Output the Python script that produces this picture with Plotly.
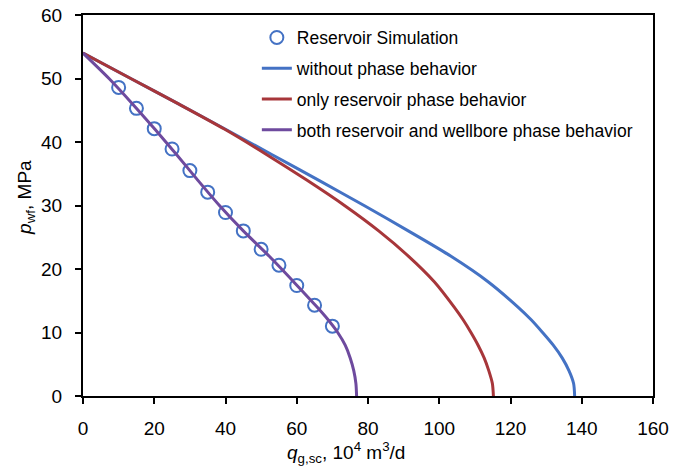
import plotly.graph_objects as go

# Reservoir simulation points
sim_q = [10, 15, 20, 25, 30, 35, 40, 45, 50, 55, 60, 65, 70]
sim_p = [48.6, 45.3, 42.1, 38.9, 35.5, 32.1, 28.9, 26.0, 23.1, 20.6, 17.4, 14.3, 11.0]

# Curves, read at shared pwf levels
p_levels = [54, 50, 46, 42, 38, 34, 30, 26, 22, 18, 14, 12, 10, 8, 6, 4, 2, 0]
q_without = [0, 13.4, 26.8, 40.0, 53.1, 66.1, 78.9, 91.3, 103.3, 113.7, 122.1, 125.8, 129.0, 132.0, 134.5, 136.4, 137.7, 138.0]
q_reservoir = [0, 13.4, 26.8, 39.8, 51.6, 62.8, 73.4, 83.0, 91.4, 98.6, 104.2, 106.7, 108.9, 110.9, 112.6, 113.9, 114.9, 115.2]
q_both = [0, 7.3, 13.9, 20.2, 26.3, 32.2, 38.3, 45.0, 52.3, 59.1, 65.7, 68.8, 71.5, 73.6, 75.0, 76.0, 76.6, 76.8]

x_ticks = [0, 20, 40, 60, 80, 100, 120, 140, 160]
y_ticks = [0, 10, 20, 30, 40, 50, 60]

BLUE = "#4472C4"
RED = "#A7363A"
PURPLE = "#6E4A9E"

fig = go.Figure()
fig.add_trace(go.Scatter(x=sim_q, y=sim_p, mode="markers", name="Reservoir Simulation",
                         legendgroup="a",
                         marker=dict(symbol="circle-open", size=13, color=BLUE, line=dict(width=2, color=BLUE))))
fig.add_trace(go.Scatter(x=q_without, y=p_levels, mode="lines", name="without phase behavior",
                         legendgroup="b", line=dict(color=BLUE, width=3, shape="spline", smoothing=0.8)))
fig.add_trace(go.Scatter(x=q_reservoir, y=p_levels, mode="lines", name="only reservoir phase behavior",
                         legendgroup="c", line=dict(color=RED, width=3, shape="spline", smoothing=0.8)))
fig.add_trace(go.Scatter(x=q_both, y=p_levels, mode="lines", name="both reservoir and wellbore phase behavior",
                         legendgroup="d", line=dict(color=PURPLE, width=3, shape="spline", smoothing=0.8)))

font_fam = "Liberation Sans, Arial, sans-serif"
axis_common = dict(showgrid=False, zeroline=False, showline=True, linecolor="black", linewidth=2,
                   mirror=True, ticks="outside", ticklen=6, tickwidth=2, tickcolor="black",
                   automargin=False, ticklabeloverflow="allow",
                   tickfont=dict(size=19, color="black"))
fig.update_layout(
    width=681, height=459,
    paper_bgcolor="white", plot_bgcolor="white",
    margin=dict(l=75, r=36, t=7, b=71),
    font=dict(family=font_fam, size=19, color="black"),
    showlegend=True,
    legend=dict(x=0.305, y=0.988, xanchor="left", yanchor="top",
                bgcolor="rgba(0,0,0,0)", borderwidth=0,
                font=dict(size=17.5, color="black"), tracegroupgap=5),
    xaxis=dict(range=[0, 160], tickvals=x_ticks, ticktext=[str(v) for v in x_ticks],
               ticklabelstandoff=8, **axis_common),
    yaxis=dict(range=[0, 60], tickvals=y_ticks, ticktext=[str(v) for v in y_ticks],
               ticklabelstandoff=9, **axis_common),
    annotations=[
        dict(text="<i>q</i><sub>g,sc</sub>, 10<sup>4</sup> m<sup>3</sup>/d", xref="paper", yref="paper",
             x=0.461, y=-0.147, xanchor="center", yanchor="middle", showarrow=False,
             font=dict(size=19, color="black")),
        dict(text="<i>p</i><sub>wf</sub>, MPa", xref="paper", yref="paper",
             x=-0.1, y=0.52, xanchor="center", yanchor="middle", showarrow=False, textangle=-90,
             font=dict(size=19, color="black")),
    ],
)

fig.write_html("out.html")
